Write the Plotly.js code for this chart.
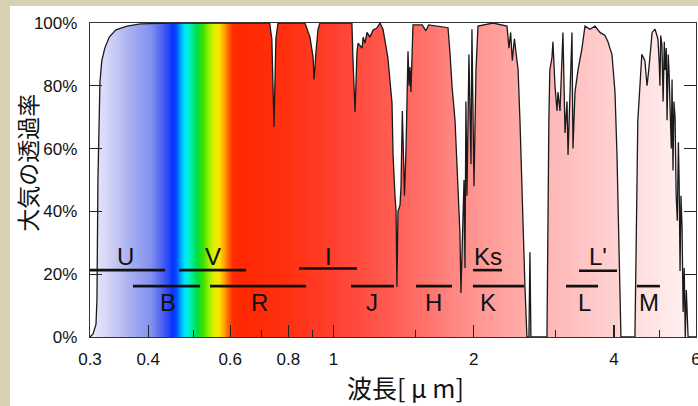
<!DOCTYPE html>
<html><head><meta charset="utf-8">
<script src="https://cdn.plot.ly/plotly-3.0.1.min.js"></script>
<style>
html,body{margin:0;padding:0;width:698px;height:406px;overflow:hidden;background:#d8d0b2;}
#chart{position:absolute;left:10px;top:6px;width:688px;height:400px;background:#fff;}
</style></head><body><div id="chart"></div>
<script>
// ---- transmission curve (wavelength in μm, transmission in %) ----
const wavelength = [0.300,0.3045,0.309,0.3105,0.312,0.3151,0.318,0.3228,0.330,0.341,0.360,0.385,0.45,0.70,0.729,0.737,0.745,0.752,0.760,
 0.868,0.890,0.904,0.908,0.917,0.926,0.935,1.095,1.101,1.112,1.123,1.129,1.151,1.158,1.168,1.180,1.197,1.216,1.239,1.258,1.277,1.308,1.335,1.342,1.355,1.362,1.368,1.375,1.389,1.396,1.405,1.413,1.420,1.431,1.438,1.445,1.452,1.459,1.466,1.474,1.481,
 1.55,1.579,1.60,1.761,1.779,1.796,1.823,1.841,1.868,1.877,1.887,1.906,1.915,1.924,1.934,1.953,1.973,1.982,2.002,2.022,2.042,2.20,2.357,2.38,2.40,2.42,2.445,2.476,2.49,2.513,2.538,2.55,2.576,2.601,2.627,2.64,2.653,
 2.872,2.885,2.899,2.913,2.944,2.958,2.988,3.018,3.033,3.063,3.108,3.14,3.171,3.187,3.219,3.25,3.266,3.299,3.348,3.415,3.466,3.551,3.641,3.733,3.826,3.883,3.92,3.96,3.98,4.02,4.06,4.10,4.12,4.14,
 4.437,4.46,4.48,4.50,4.548,4.59,4.66,4.71,4.75,4.83,4.90,4.97,5.00,5.02,5.04,5.07,5.10,5.13,5.15,5.18,5.20,5.23,5.25,5.28,5.31,5.33,5.355,5.38,5.41,5.44,5.47,5.50,5.52,5.545,5.57,5.60,5.62,5.63,5.66,5.69,5.72,5.74,5.77,6.0];
const transmission = [0,1,4,12,50,81,88,92,95.5,97.8,99,99.7,100,100,100,95,67,95,100,
 100,95.5,89,82,91,98,100,100,88,71.7,91,93.6,92,95.5,93.6,97,95.5,97.8,98.4,100,98,89,74.5,58,45,40,16,40,42,48,72,55,45,60,84,91,80,86,78,88,99.4,
 99.4,97.5,99.4,98.5,90,80,69,53,33,14,25,50,22,75,45,90,55,98,48,85,99,100,99,92,97,88,95,87,85,69,48,32,16,0,0,27,0,
 0,37,69,85,89,94,80,72,78,72,97,65,75,58,78,97,60,78,85,92,99,98,99,97,96,94,92,90,86,78,58,30,12,0,
 0,27,53,69,80,90,88,80,85,97,98,95,88,80,96,93,75,94,85,92,69,90,85,72,60,82,53,75,70,45,37,62,50,21,45,35,18,8,22,0,15,10,0,0];

// ---- photometric bands ----
const bandNames  = ['U','B','V','R','I','J','H','Ks','K',"L'",'L','M'];
const bandStart  = [0.288,0.371,0.466,0.543,0.843,1.090,1.503,1.992,1.992,3.364,3.156,4.48];
const bandEnd    = [0.435,0.517,0.649,0.873,1.123,1.348,1.796,2.30,2.564,4.06,3.697,5.02];
const bandLevel  = [21.3,16.2,21.3,16.2,21.8,16.2,16.2,21.3,16.2,21.1,16.2,16.2];
const labelX     = [0.357,0.441,0.551,0.695,0.973,1.209,1.643,2.146,2.146,3.697,3.466,4.755];
const labelY     = [25.5,11,25.5,11,25.5,11,11,25.5,11,25.5,11,11];

// ---- axis ticks ----
const xTickVals  = [0.3,0.4,0.6,0.8,1,2,4,6];
const xTickText  = ['0.3','0.4','0.6','0.8','1','2','4','6'];
const xMinorVals = [0.5,0.7,0.9,1.5,3,5];
const yTickVals  = [0,20,40,60,80,100];
const yTickText  = ['0%','20%','40%','60%','80%','100%'];

// ---- spectral colour gradient (style) ----
const gradWave  = [0.300,0.323,0.364,0.405,0.424,0.441,0.450,0.459,0.468,0.477,0.487,0.497,0.509,0.524,0.540,0.554,0.568,0.582,0.594,0.605,0.621,0.80,1.0,1.3,1.6,2.0,2.5,3.0,3.7,4.2,4.6,5.5,6.0];
const gradColor = ['#ececff','#d8d8f8','#aab0f0','#8090f0','#5568f0','#2848f8','#0a30ff','#0050ff','#00a0ff','#00e0ff','#00f0d0','#00e890','#00e040','#40e000','#a0f000','#e0f000','#ffe000','#ffa000','#ff6000','#ff3000','#ff2800','#ff3010','#ff4030','#ff5a50','#ff7570','#ff9590','#ffaaa6','#ffbaba','#ffcaca','#ffd6d6','#ffe0e0','#ffeeee','#fff4f4'];

const n = gradWave.length;
const idx = gradWave.map((_, i) => i);
const colorscale = gradColor.map((c, i) => [i / (n - 1), c]);

const traces = [];
traces.push({type:'heatmap', x: gradWave, y:[0,100], z:[idx, idx], colorscale: colorscale,
  zmin:0, zmax:n-1, zsmooth:'best', showscale:false, hoverinfo:'skip'});
// white mask above the curve
traces.push({type:'scatter', mode:'lines', x: wavelength, y: wavelength.map(() => 100),
  line:{width:0, color:'rgba(0,0,0,0)'}, hoverinfo:'skip', showlegend:false});
traces.push({type:'scatter', mode:'lines', x: wavelength, y: transmission, fill:'tonexty',
  fillcolor:'#ffffff', line:{color:'#1a1a1a', width:1.3}, showlegend:false});
// band lines
const bx = [], by = [];
bandNames.forEach((b, i) => { bx.push(bandStart[i], bandEnd[i], null); by.push(bandLevel[i], bandLevel[i], null); });
traces.push({type:'scatter', mode:'lines', x: bx, y: by, line:{color:'#111', width:2.6}, showlegend:false, hoverinfo:'skip'});

const annotations = bandNames.map((b, i) => ({
  x: Math.log10(labelX[i]), y: labelY[i], xref:'x', yref:'y', text: b, showarrow:false,
  font:{family:'Liberation Sans, Arial, sans-serif', size:24, color:'#111'}
}));

const tickFont = {family:'Liberation Sans, Arial, sans-serif', size:17, color:'#111'};
const layout = {
  width:688, height:400,
  margin:{l:80, r:2, t:17, b:69},
  paper_bgcolor:'#ffffff', plot_bgcolor:'#ffffff',
  showlegend:false,
  xaxis:{type:'log', range:[Math.log10(0.3), Math.log10(6)], tickvals:xTickVals, ticktext:xTickText,
    ticks:'inside', ticklen:12, tickwidth:1.2, tickcolor:'#222', showline:true, linecolor:'#333', linewidth:1.2,
    mirror:true, showgrid:false, zeroline:false, tickfont:tickFont, ticklabelstandoff:6, ticklabeloverflow:'allow',
    minor:{tickvals:xMinorVals, ticks:'inside', ticklen:7, tickwidth:1.2, tickcolor:'#222', showgrid:false},
    title:{text:'\u200B\u3000波長[ μ m]', font:{family:'Noto Sans CJK JP', size:25, color:'#111'}, standoff:4}},
  yaxis:{range:[0,100], tickvals:yTickVals, ticktext:yTickText,
    ticks:'inside', ticklen:12, tickwidth:1.2, tickcolor:'#222', showline:true, linecolor:'#333', linewidth:1.2,
    mirror:'ticks', showgrid:false, zeroline:false, tickfont:tickFont, ticklabelstandoff:8, ticklabeloverflow:'allow',
    title:{text:'\u200B\u3000\u2002大気の透過率', font:{family:'Noto Sans CJK JP', size:23, color:'#111'}, standoff:5}},
  annotations: annotations
};
Plotly.newPlot('chart', traces, layout, {displayModeBar:false, staticPlot:true});
</script></body></html>
